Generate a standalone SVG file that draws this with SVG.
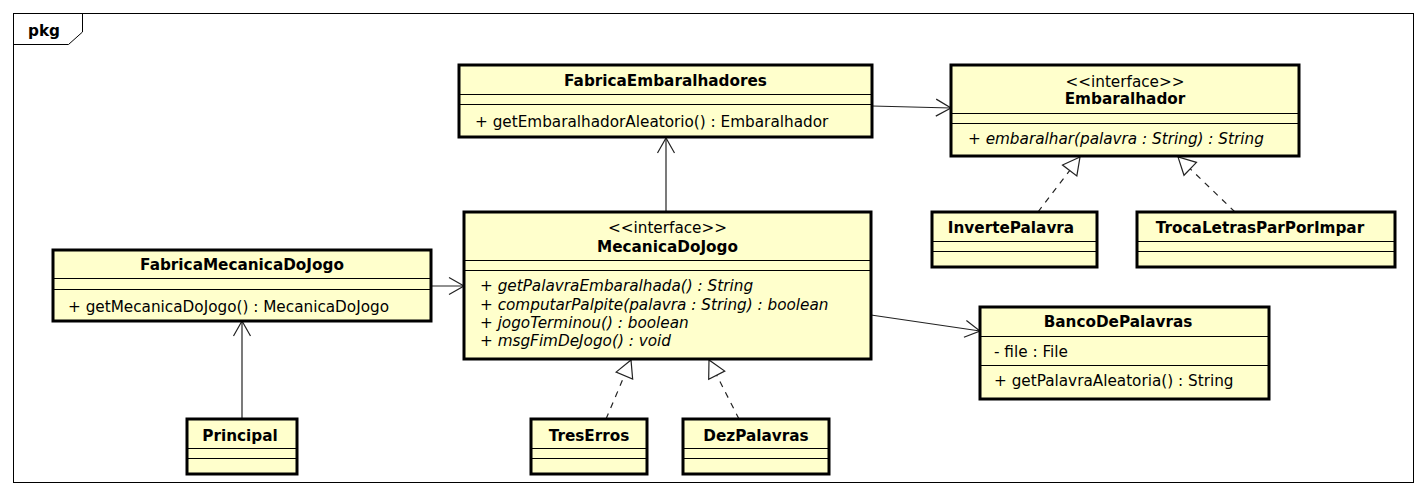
<svg xmlns="http://www.w3.org/2000/svg" width="1428" height="494" viewBox="0 0 1428 494">
<style>
text{font-family:"DejaVu Sans","Liberation Sans",sans-serif;font-size:15.25px;fill:#000}
.b{font-weight:bold}
.c{text-anchor:middle}
.i{font-style:italic}
.box{fill:#ffffcc;stroke:#000;stroke-width:3}
.sep{stroke:#000;stroke-width:1}
.edge{fill:none;stroke:#222;stroke-width:1.2}
.dash{fill:none;stroke:#222;stroke-width:1.2;stroke-dasharray:6,6}
</style>
<defs>
<marker id="open" viewBox="-16 -10 18 20" refX="0" refY="0" markerWidth="18" markerHeight="20" markerUnits="userSpaceOnUse" orient="auto">
<path d="M-15,-8.5 L0,0 L-15,8.5" fill="none" stroke="#222" stroke-width="1.2"/>
</marker>
<marker id="real" viewBox="-19 -11 21 22" refX="0" refY="0" markerWidth="21" markerHeight="22" markerUnits="userSpaceOnUse" orient="auto">
<path d="M-17,-9 L0,0 L-17,9 Z" fill="#fff" stroke="#222" stroke-width="1.2"/>
</marker>
</defs>
<rect width="1428" height="494" fill="#fff"/>
<g id="frame">
<rect x="13.5" y="13.5" width="1400" height="469" fill="none" stroke="#000" stroke-width="1"/>
<path d="M13.5,44.5 L68.5,44.5 L82.5,32 L82.5,13.5" fill="none" stroke="#000" stroke-width="1"/>
<text x="28" y="36" class="b">pkg</text>
</g>
<g id="connectors">
<line class="edge" x1="872" y1="106" x2="951" y2="108" marker-end="url(#open)"/>
<line class="edge" x1="666" y1="212" x2="666" y2="138" marker-end="url(#open)"/>
<line class="edge" x1="431" y1="286" x2="464" y2="286" marker-end="url(#open)"/>
<line class="edge" x1="242" y1="419" x2="242" y2="321" marker-end="url(#open)"/>
<line class="edge" x1="871" y1="315" x2="980" y2="331" marker-end="url(#open)"/>
<line class="dash" x1="1038" y1="212" x2="1080" y2="157" marker-end="url(#real)"/>
<line class="dash" x1="1235" y1="212" x2="1178" y2="157" marker-end="url(#real)"/>
<line class="dash" x1="606" y1="419" x2="631" y2="360" marker-end="url(#real)"/>
<line class="dash" x1="739" y1="419" x2="709" y2="360" marker-end="url(#real)"/>
</g>
<g id="FabricaEmbaralhadores">
<rect class="box" x="459" y="65" width="413" height="72"/>
<line class="sep" x1="459" y1="94.5" x2="872" y2="94.5"/>
<line class="sep" x1="459" y1="104.5" x2="872" y2="104.5"/>
<text x="665.5" y="86" class="b c">FabricaEmbaralhadores</text>
<text x="475" y="127">+ getEmbaralhadorAleatorio() : Embaralhador</text>
</g>
<g id="Embaralhador">
<rect class="box" x="951" y="65" width="348" height="91"/>
<line class="sep" x1="951" y1="113.5" x2="1299" y2="113.5"/>
<line class="sep" x1="951" y1="123.5" x2="1299" y2="123.5"/>
<text x="1125" y="87" class="c">&lt;&lt;interface&gt;&gt;</text>
<text x="1125" y="104" class="b c">Embaralhador</text>
<text x="968" y="144" class="i">+ embaralhar(palavra : String) : String</text>
</g>
<g id="FabricaMecanicaDoJogo">
<rect class="box" x="53" y="250" width="378" height="71"/>
<line class="sep" x1="53" y1="278.5" x2="431" y2="278.5"/>
<line class="sep" x1="53" y1="289.5" x2="431" y2="289.5"/>
<text x="242" y="270" class="b c">FabricaMecanicaDoJogo</text>
<text x="68" y="312">+ getMecanicaDoJogo() : MecanicaDoJogo</text>
</g>
<g id="MecanicaDoJogo">
<rect class="box" x="464" y="212" width="407" height="147"/>
<line class="sep" x1="464" y1="260.5" x2="871" y2="260.5"/>
<line class="sep" x1="464" y1="270.5" x2="871" y2="270.5"/>
<text x="667.5" y="233" class="c">&lt;&lt;interface&gt;&gt;</text>
<text x="667.5" y="252" class="b c">MecanicaDoJogo</text>
<text x="480" y="291" class="i">+ getPalavraEmbaralhada() : String</text>
<text x="480" y="309.5" class="i">+ computarPalpite(palavra : String) : boolean</text>
<text x="480" y="328" class="i">+ jogoTerminou() : boolean</text>
<text x="480" y="346" class="i">+ msgFimDeJogo() : void</text>
</g>
<g id="InvertePalavra">
<rect class="box" x="932" y="212" width="165" height="55"/>
<line class="sep" x1="932" y1="241.5" x2="1097" y2="241.5"/>
<line class="sep" x1="932" y1="251.5" x2="1097" y2="251.5"/>
<text x="1011" y="233" class="b c">InvertePalavra</text>
</g>
<g id="TrocaLetrasParPorImpar">
<rect class="box" x="1137" y="212" width="258" height="55"/>
<line class="sep" x1="1137" y1="241.5" x2="1395" y2="241.5"/>
<line class="sep" x1="1137" y1="251.5" x2="1395" y2="251.5"/>
<text x="1260" y="233" class="b c">TrocaLetrasParPorImpar</text>
</g>
<g id="BancoDePalavras">
<rect class="box" x="980" y="307" width="289" height="92"/>
<line class="sep" x1="980" y1="336.5" x2="1269" y2="336.5"/>
<line class="sep" x1="980" y1="365.5" x2="1269" y2="365.5"/>
<text x="1118" y="327" class="b c">BancoDePalavras</text>
<text x="994" y="357">- file : File</text>
<text x="994" y="386">+ getPalavraAleatoria() : String</text>
</g>
<g id="Principal">
<rect class="box" x="187" y="419" width="110" height="55"/>
<line class="sep" x1="187" y1="448.5" x2="297" y2="448.5"/>
<line class="sep" x1="187" y1="458.5" x2="297" y2="458.5"/>
<text x="240" y="441" class="b c">Principal</text>
</g>
<g id="TresErros">
<rect class="box" x="531" y="419" width="116" height="55"/>
<line class="sep" x1="531" y1="448.5" x2="647" y2="448.5"/>
<line class="sep" x1="531" y1="458.5" x2="647" y2="458.5"/>
<text x="589" y="441" class="b c">TresErros</text>
</g>
<g id="DezPalavras">
<rect class="box" x="683" y="419" width="146" height="55"/>
<line class="sep" x1="683" y1="448.5" x2="829" y2="448.5"/>
<line class="sep" x1="683" y1="458.5" x2="829" y2="458.5"/>
<text x="756" y="441" class="b c">DezPalavras</text>
</g>
</svg>
